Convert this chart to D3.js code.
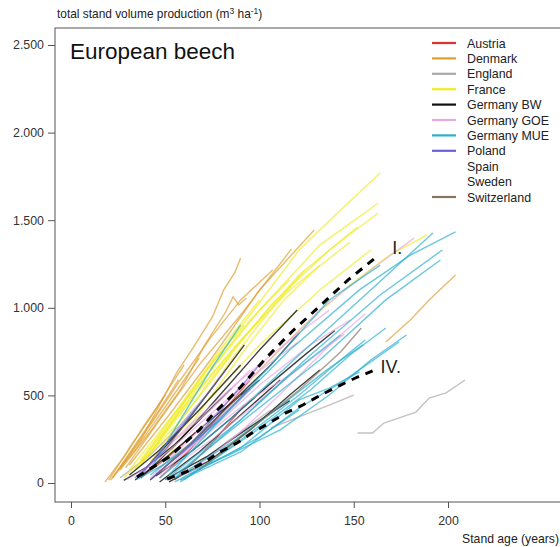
<!DOCTYPE html>
<html><head><meta charset="utf-8">
<script src="https://cdn.jsdelivr.net/npm/d3@7/dist/d3.min.js"></script>
<style>body{margin:0;background:#fff}svg{display:block;font-family:"Liberation Sans",Arial,sans-serif}</style>
</head><body><svg id="c" width="560" height="547"></svg>
<script>
const xTicks = [0, 50, 100, 150, 200];
const yTicks = [0, 500, 1000, 1500, 2000, 2500];
const yTickLabels = ["0", "500", "1.000", "1.500", "2.000", "2.500"];
const countries = ["Austria","Denmark","England","France","Germany BW","Germany GOE","Germany MUE","Poland","Spain","Sweden","Switzerland"];
const colors = ["#e03030","#e0a030","#a8a8a8","#f0ec20","#111111","#e8a8e0","#2ab0d0","#6a60d8",null,null,"#8a7660"];

const austria = [
  [[47,29],[63,188],[79,388],[95,588]],
  [[55,17],[74,217],[92,445]],
  [[38,40],[52,150],[66,290]]
];
const denmark = [
  [[22,29],[37,245],[47,445],[56,628],[65,776],[75,948],[81,1102],[87,1204],[90,1284]],
  [[25,74],[42,331],[58,588],[74,828],[90,1045],[107,1216]],
  [[29,86],[47,360],[68,674],[90,959],[117,1336]],
  [[31,103],[52,388],[74,702],[100,1102],[129,1444]],
  [[26,74],[42,291],[58,531],[71,788],[82,976],[86,1062],[89,1016],[93,1056]],
  [[21,17],[34,188],[47,388],[60,588],[68,713]],
  [[167,805],[180,930],[190,1045],[204,1187]],
  [[18,6],[29,160],[39,331],[50,502]],
  [[20,17],[31,200],[42,371],[52,542],[60,674]],
  [[22,29],[34,217],[45,388],[57,588]]
];
const england = [
  [[152,285],[160,285],[166,342],[183,405],[190,485],[199,514],[209,588]],
  [[106,314],[121,377],[137,445],[150,502]],
  [[26,29],[42,160],[58,331],[74,531]],
  [[63,74],[84,245],[106,417]]
];
const france = [
  [[42,160],[68,588],[95,959],[121,1330],[143,1558],[164,1770]],
  [[39,131],[68,559],[100,987],[132,1358],[163,1598]],
  [[42,120],[74,588],[106,1016],[137,1330],[163,1541]],
  [[37,103],[68,531],[95,873],[121,1187],[152,1461]],
  [[34,86],[63,474],[90,816],[116,1102],[148,1376]],
  [[39,74],[68,417],[100,788],[132,1102],[159,1330]],
  [[31,74],[52,360],[74,645],[95,930],[116,1159]],
  [[37,131],[58,445],[79,759],[100,1045]],
  [[34,74],[55,388],[76,702],[92,902]],
  [[45,103],[66,417],[87,731],[108,1016],[124,1216]],
  [[50,131],[71,445],[92,759],[113,1045],[132,1244]],
  [[95,588],[121,873],[148,1130],[169,1301],[189,1416]],
  [[28,30],[40,150],[55,320],[70,520],[85,730]]
];
const germanyBW = [
  [[37,29],[58,245],[79,502],[100,759],[120,987]],
  [[42,17],[63,217],[84,445],[106,674],[121,856]],
  [[47,6],[68,177],[90,388],[111,588]],
  [[31,46],[47,188],[68,417],[90,674]],
  [[52,6],[74,131],[95,303],[116,502],[132,645]],
  [[39,74],[58,303],[76,559],[92,788]],
  [[50,20],[72,150],[95,320],[116,470]],
  [[34,17],[52,160],[74,360],[100,588]],
  [[28,15],[40,90],[55,220],[70,380],[85,540]],
  [[45,40],[65,190],[85,370],[105,560],[125,740],[140,870]]
];
const germanyGOE = [
  [[42,29],[68,303],[100,645],[132,987],[159,1216],[182,1398]],
  [[47,46],[74,303],[100,559],[127,788],[148,930]],
  [[39,74],[63,331],[90,588],[116,816],[137,987]],
  [[58,17],[90,291],[116,559],[140,816],[156,965]],
  [[45,74],[68,245],[95,474],[116,616]],
  [[37,46],[52,217],[74,417],[95,645]],
  [[30,20],[45,120],[60,260],[80,450],[100,640],[120,800]],
  [[50,60],[75,250],[100,470],[125,690],[145,850]]
];
const germanyMUE = [
  [[42,46],[79,360],[116,759],[153,1102],[180,1301],[204,1433]],
  [[47,29],[84,360],[121,731],[159,1102],[192,1427]],
  [[50,17],[90,360],[127,731],[164,1073],[197,1330]],
  [[52,17],[95,388],[132,702],[167,1045],[196,1273]],
  [[58,6],[95,274],[127,531],[148,731],[167,885]],
  [[55,29],[84,160],[111,303],[137,502],[159,702],[178,845]],
  [[58,17],[90,177],[121,428],[143,571],[159,691],[174,805]],
  [[63,51],[90,200],[121,474],[137,542],[153,634]],
  [[42,74],[58,360],[74,645],[90,902]],
  [[52,46],[79,360],[106,674],[137,1045],[164,1244]],
  [[55,29],[84,303],[116,616],[143,845]],
  [[60,17],[90,245],[121,502],[143,702],[156,816]],
  [[55,6],[76,120],[100,262],[121,417]],
  [[35,20],[50,110],[65,230],[80,370]],
  [[60,60],[85,230],[110,430],[135,640],[155,790]]
];
const poland = [
  [[34,29],[50,188],[66,417],[82,645]],
  [[42,17],[63,217],[84,474],[100,674]],
  [[37,46],[52,245],[68,445]],
  [[45,50],[60,180],[75,330],[95,540]]
];
const spain = [];
const sweden = [];
const switzerland = [
  [[68,74],[95,303],[121,531],[143,748],[154,885]],
  [[47,63],[68,274],[90,502]]
];
const yieldClassI = [[35,34],[52,148],[68,302],[75,388],[90,548],[103,708],[117,862],[132,1010],[147,1159],[162,1290]];
const yieldClassIV = [[51,23],[61,63],[71,120],[78,171],[88,228],[96,285],[105,342],[114,400],[123,445],[133,505],[143,559],[152,605],[160,640]];

const seriesByCountry = [austria, denmark, england, france, germanyBW, germanyGOE, germanyMUE, poland, spain, sweden, switzerland];

const svg = d3.select("#c");
const x = d3.scaleLinear().domain([0, 200]).range([71, 448]);
const y = d3.scaleLinear().domain([0, 2500]).range([483, 45]);
const pLeft = 55, pTop = 28, pBottom = 502, pRight = 566;

svg.append("defs").append("clipPath").attr("id", "clip")
  .append("rect").attr("x", pLeft).attr("y", pTop).attr("width", pRight - pLeft).attr("height", pBottom - pTop);

const line = d3.line().x(d => x(d[0])).y(d => y(d[1])).curve(d3.curveLinear);
const g = svg.append("g").attr("clip-path", "url(#clip)");

seriesByCountry.forEach((arr, i) => {
  if (!colors[i]) return;
  arr.forEach(s => {
    g.append("path").attr("d", line(s)).attr("fill", "none")
      .attr("stroke", colors[i]).attr("stroke-width", 1.4)
      .attr("stroke-opacity", i === 4 ? 0.8 : 0.7);
  });
});

[yieldClassI, yieldClassIV].forEach(s => {
  g.append("path").attr("d", line(s)).attr("fill", "none")
    .attr("stroke", "#000").attr("stroke-width", 3)
    .attr("stroke-dasharray", "8,7");
});

// frame
svg.append("rect").attr("x", pLeft).attr("y", pTop).attr("width", pRight - pLeft).attr("height", pBottom - pTop)
  .attr("fill", "none").attr("stroke", "#555").attr("stroke-width", 1);

// x axis
const xAxis = d3.axisBottom(x).tickValues(xTicks).tickSize(6).tickPadding(8).tickFormat(d3.format("d"));
const xg = svg.append("g").attr("transform", `translate(0,${pBottom})`).call(xAxis);
xg.select(".domain").remove();
xg.selectAll("line").attr("stroke", "#555");
xg.selectAll("text").attr("font-size", 12.4).attr("fill", "#333").attr("font-family", "Liberation Sans, Arial");

// y axis
const yAxis = d3.axisLeft(y).tickValues(yTicks).tickSize(7).tickPadding(4).tickFormat((d, i) => yTickLabels[i]);
const yg = svg.append("g").attr("transform", `translate(${pLeft},0)`).call(yAxis);
yg.select(".domain").remove();
yg.selectAll("line").attr("stroke", "#555");
yg.selectAll("text").attr("font-size", 12.4).attr("fill", "#333").attr("font-family", "Liberation Sans, Arial");

// axis titles
const yt = svg.append("text").attr("x", 57).attr("y", 18).attr("font-size", 11.9).attr("fill", "#222");
yt.append("tspan").text("total stand volume production (m");
yt.append("tspan").attr("dy", -4).attr("font-size", 8.5).text("3");
yt.append("tspan").attr("dy", 4).text(" ha");
yt.append("tspan").attr("dy", -4).attr("font-size", 8.5).text("-1");
yt.append("tspan").attr("dy", 4).text(")");

svg.append("text").attr("x", 559).attr("y", 543).attr("text-anchor", "end")
  .attr("font-size", 12.2).attr("fill", "#222").text("Stand age (years)");

// title
svg.append("text").attr("x", 70).attr("y", 59).attr("font-size", 22.5).attr("fill", "#111").text("European beech");

// yield class labels
svg.append("text").attr("x", x(154) + 31).attr("y", y(1290) - 3).attr("font-size", 18).attr("fill", "#222").text("I.");
svg.append("text").attr("x", x(160) + 8).attr("y", y(640) + 2).attr("font-size", 18).attr("fill", "#222").text("IV.");

// legend
const lg = svg.append("g");
countries.forEach((c, i) => {
  const yy = 43 + i * 15.4;
  if (colors[i]) {
    lg.append("line").attr("x1", 432).attr("x2", 456).attr("y1", yy).attr("y2", yy)
      .attr("stroke", colors[i]).attr("stroke-width", 2.2);
  }
  lg.append("text").attr("x", 467).attr("y", yy + 4.5).attr("font-size", 12.4).attr("fill", "#222").text(c);
});
</script></body></html>
